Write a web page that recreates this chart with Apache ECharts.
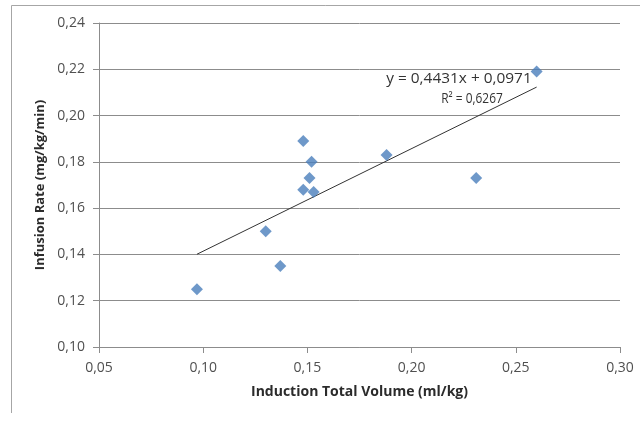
<!DOCTYPE html>
<html>
<head>
<meta charset="utf-8">
<script src="https://cdn.jsdelivr.net/npm/echarts@6/dist/echarts.min.js"></script>
<style>
  html, body { margin: 0; padding: 0; background: #fff; }
  #chart { width: 640px; height: 421px; }
</style>
</head>
<body>
<div id="chart"></div>
<script>
// Induction volume vs. infusion rate, one point per subject
const volumeMlKg = [0.097, 0.130, 0.137, 0.148, 0.148, 0.151, 0.152, 0.153, 0.188, 0.231, 0.260];
const rateMgKgMin = [0.125, 0.150, 0.135, 0.189, 0.168, 0.173, 0.180, 0.167, 0.183, 0.173, 0.219];

// Linear trend reported on the chart
const slope = 0.4431;
const intercept = 0.0971;
const rSquared = 0.6267;

const xTicks = { min: 0.05, max: 0.30, step: 0.05 };
const yTicks = { min: 0.10, max: 0.24, step: 0.02 };

const fmt = (v, d) => v.toFixed(d).replace('.', ',');

const points = volumeMlKg.map((x, i) => [x, rateMgKgMin[i]]);
const xLo = Math.min(...volumeMlKg);
const xHi = Math.max(...volumeMlKg);
const trend = [[xLo, slope * xLo + intercept], [xHi, slope * xHi + intercept]];

const FONT = '"Open Sans", "DejaVu Sans", sans-serif';
const GRID_GRAY = '#8c8c8c';

const chart = echarts.init(document.getElementById('chart'), null, { renderer: 'canvas' });

chart.setOption({
  animation: false,
  backgroundColor: '#ffffff',
  grid: { left: 99, top: 23, right: 20, bottom: 74, outerBoundsMode: 'none', containLabel: false },
  xAxis: {
    type: 'value',
    min: xTicks.min, max: xTicks.max, interval: xTicks.step,
    name: 'Induction Total Volume (ml/kg)',
    nameLocation: 'middle',
    nameGap: 38,
    nameTextStyle: { fontFamily: FONT, fontWeight: 'bold', fontSize: 14, color: '#2b2b2b' },
    axisLine: { show: true, lineStyle: { color: GRID_GRAY, width: 1 } },
    axisTick: { show: true, length: 6, lineStyle: { color: GRID_GRAY } },
    axisLabel: { margin: 14, fontFamily: FONT, fontSize: 14, color: '#505050', formatter: v => fmt(v, 2) },
    splitLine: { show: false }
  },
  yAxis: {
    type: 'value',
    min: yTicks.min, max: yTicks.max, interval: yTicks.step,
    name: 'Infusion Rate (mg/kg/min)',
    nameLocation: 'middle',
    nameGap: 52,
    nameTextStyle: { fontFamily: FONT, fontWeight: 'bold', fontSize: 13, color: '#2b2b2b' },
    axisLine: { show: true, lineStyle: { color: GRID_GRAY, width: 1 } },
    axisTick: { show: true, length: 6, lineStyle: { color: GRID_GRAY } },
    axisLabel: { margin: 14, fontFamily: FONT, fontSize: 14, color: '#505050', formatter: v => fmt(v, 2) },
    splitLine: { show: true, lineStyle: { color: GRID_GRAY, width: 1 } }
  },
  series: [
    {
      type: 'line',
      data: trend,
      symbol: 'none',
      silent: true,
      lineStyle: { color: '#333333', width: 1 },
      z: 2
    },
    {
      type: 'scatter',
      data: points,
      symbol: 'diamond',
      symbolSize: 12,
      itemStyle: { color: '#4a7ebb' },
      z: 3
    }
  ],
  graphic: [
    {
      // chart frame: top and left edges
      type: 'polyline',
      shape: { points: [[11.5, 413], [11.5, 5.5], [640, 5.5]] },
      style: { fill: 'none', stroke: '#a6a6a6', lineWidth: 1 },
      silent: true, z: -1
    },
    {
      type: 'text',
      x: 459, y: 79, scaleX: 1.1,
      style: {
        text: 'y = ' + fmt(slope, 4) + 'x + ' + fmt(intercept, 4),
        font: '14px ' + FONT, fill: '#333333', align: 'center', verticalAlign: 'middle'
      }
    },
    {
      type: 'text',
      x: 472, y: 99, scaleX: 0.85,
      style: {
        text: 'R² = ' + fmt(rSquared, 4),
        font: '14px ' + FONT, fill: '#333333', align: 'center', verticalAlign: 'middle'
      }
    }
  ]
});
</script>
</body>
</html>
